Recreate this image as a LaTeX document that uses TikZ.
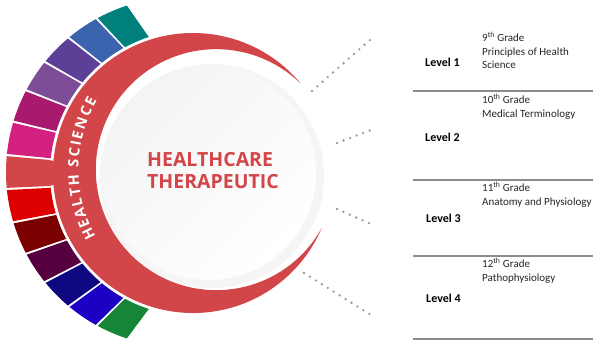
\documentclass[tikz,border=0pt]{standalone}
\usepackage{fontspec}
\setmainfont{Carlito}
\newfontfamily\opensans{Open Sans}
\usetikzlibrary{calc, decorations.text}

\definecolor{ringred}{RGB}{210,69,72}
\definecolor{segteal}{RGB}{0,128,124}
\definecolor{segblue}{RGB}{59,99,174}
\definecolor{segpurple}{RGB}{92,63,151}
\definecolor{seglilac}{RGB}{126,77,152}
\definecolor{segplum}{RGB}{169,26,111}
\definecolor{segpink}{RGB}{212,32,127}
\definecolor{segred}{RGB}{221,0,0}
\definecolor{segbrown}{RGB}{123,0,0}
\definecolor{segwine}{RGB}{86,0,64}
\definecolor{segnavy}{RGB}{15,8,128}
\definecolor{segviolet}{RGB}{28,0,196}
\definecolor{seggreen}{RGB}{23,133,56}
\definecolor{dotgrey}{RGB}{155,155,155}
\definecolor{rulegrey}{RGB}{140,140,140}
\definecolor{txtgrey}{RGB}{38,38,38}

\begin{document}
\begin{tikzpicture}[x=1pt, y=-1pt,
  level/.style={anchor=west, inner sep=0pt, font=\fontsize{12}{14}\selectfont\bfseries},
  course/.style={anchor=north west, inner sep=0pt, align=left, text=txtgrey,
    font=\fontsize{11}{13.5}\selectfont},
  dots/.style={dotgrey, line width=2.6pt, line cap=round, dash pattern=on 0pt off 7pt},
  rowline/.style={rulegrey, line width=1.2pt}]

  \fill[white] (0,0) rectangle (594,341);
  \useasboundingbox (0,0) rectangle (594,341);

  % Centres
  \coordinate (ring) at (193,173);
  \coordinate (band) at (181,172);
  \coordinate (disc) at (216.5,169.9);
  \coordinate (face) at (212,176);

  % Coloured band
  \foreach \col [count=\k from -6] in {seggreen,segviolet,segnavy,segwine,segbrown,segred,
    ringred,segpink,segplum,seglilac,segpurple,segblue,segteal}
  {
    \pgfmathsetmacro{\a}{180+11.13*\k-5.2}
    \pgfmathsetmacro{\b}{180+11.13*\k+5.2}
    \fill[\col] ($(ring)+(\a:143)$) -- ($(band)+(\a:175)$)
      arc[start angle=\a, end angle=\b, radius=175]
      -- ($(ring)+(\b:143)$) arc[start angle=\b, end angle=\a, radius=143] -- cycle;
  }

  % Red crescent
  \fill[ringred] ($(ring)+(-40:140)$) arc[start angle=-40, end angle=-337, radius=140]
    arc[start angle=28.8, end angle=313.9, radius=120.5] -- cycle;
  \fill[ringred] ($(ring)+(175:130)$) arc[start angle=175, end angle=185, radius=130]
    -- ($(ring)+(185:146)$) arc[start angle=185, end angle=175, radius=146] -- cycle;

  % Inner disc
  \fill[gray!8] (face) circle (112);
  \shade[top color=gray!9, bottom color=white, shading angle=45] (209,173) circle (107);

  % Texts on the ring
  \path[decorate, decoration={text along path, text align=fit to path,
    text={|\opensans\bfseries\fontsize{14.5}{14.5}\selectfont\color{white}|HEALTH SCIENCE}}]
    ($(disc)+(151:138)$) arc[start angle=151, end angle=210, radius=138];
  \node[anchor=west, inner sep=0pt, align=left, text=ringred,
    font=\opensans\bfseries\fontsize{19.5}{22}\selectfont] (title) at (147,171)
    {HEALTHCARE\\THERAPEUTIC};

  % Dotted rays
  \coordinate (r1a) at (312,91);  \coordinate (r1b) at (371,39);
  \coordinate (r2a) at (337,143); \coordinate (r2b) at (371,130);
  \coordinate (r3a) at (337,209); \coordinate (r3b) at (371,224);
  \coordinate (r4a) at (304,273); \coordinate (r4b) at (371,315);
  \foreach \r in {1,2,3,4}
  {
    \draw[dots] (r\r a) -- (r\r b);
  }

  % Table
  \foreach \y in {91,180,256,339}
  {
    \draw[rowline] (413,\y) -- (593,\y);
  }
  \node[level] (lv1) at (425,62) {Level 1};
  \node[level] (lv2) at (425,137) {Level 2};
  \node[level] (lv3) at (426,218) {Level 3};
  \node[level] (lv4) at (426,298) {Level 4};
  \node[course] (gr9) at (482,32) {9\textsuperscript{th} Grade\\Principles of Health\\Science};
  \node[course] (gr10) at (482,94) {10\textsuperscript{th} Grade\\Medical Terminology};
  \node[course] (gr11) at (482,182) {11\textsuperscript{th} Grade\\Anatomy and Physiology};
  \node[course] (gr12) at (482,258) {12\textsuperscript{th} Grade\\Pathophysiology};
\end{tikzpicture}
\end{document}
